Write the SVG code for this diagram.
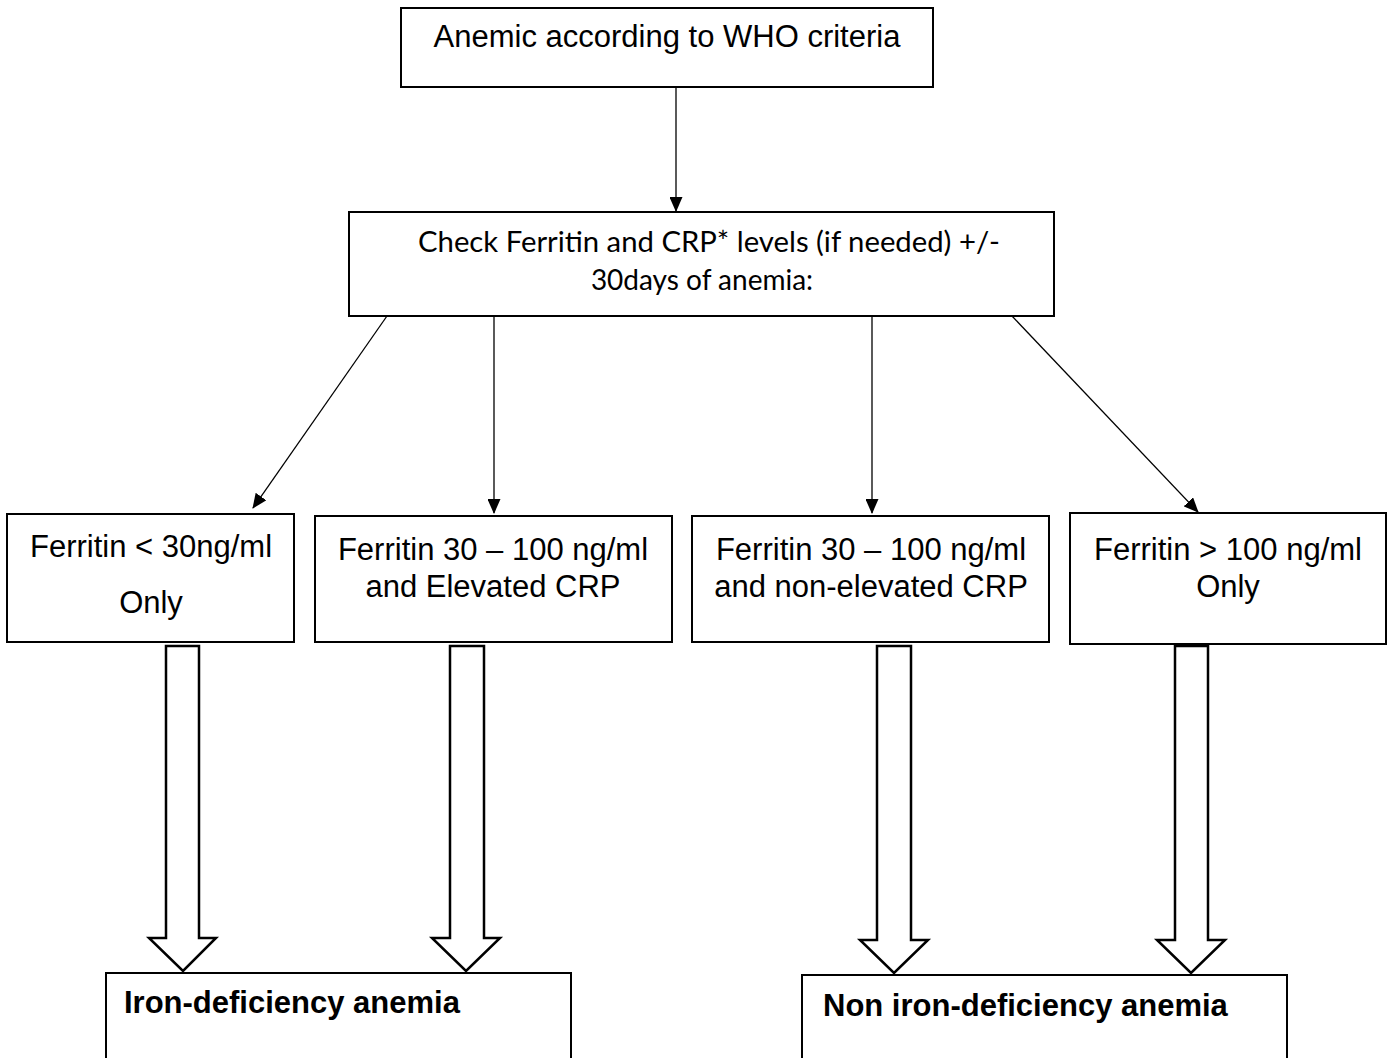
<svg xmlns="http://www.w3.org/2000/svg" width="1393" height="1058" viewBox="0 0 1393 1058">
<style>
.box{fill:#fff;stroke:#000;stroke-width:2}
.t{font-family:"Liberation Sans",Arial,sans-serif;font-size:31px;fill:#000;text-anchor:middle}
.b{font-family:"Liberation Sans",Arial,sans-serif;font-size:31px;font-weight:bold;fill:#000}
.c{font-family:Lato,"Open Sans",sans-serif;font-size:28px;fill:#000;text-anchor:middle}
.ln{stroke:#000;stroke-width:1.3;fill:none}
.blk{fill:#fff;stroke:#000;stroke-width:2.5;stroke-linejoin:miter}
</style>
<defs>
<marker id="ah" markerWidth="15" markerHeight="13" refX="14" refY="6.5" orient="auto" markerUnits="userSpaceOnUse">
<path d="M0,0 L15,6.5 L0,13 Z" fill="#000"/>
</marker>
</defs>
<rect width="1393" height="1058" fill="#fff"/>
<g id="connectors">
<line class="ln" x1="676" y1="87" x2="676" y2="211" marker-end="url(#ah)"/>
<line class="ln" x1="387" y1="316" x2="253" y2="508" marker-end="url(#ah)"/>
<line class="ln" x1="494" y1="316" x2="494" y2="513" marker-end="url(#ah)"/>
<line class="ln" x1="872" y1="316" x2="872" y2="513" marker-end="url(#ah)"/>
<line class="ln" x1="1012" y1="316" x2="1198" y2="512" marker-end="url(#ah)"/>
<path class="blk" d="M166,646 H199 V938 H216 L183,971 L149,938 H166 Z"/>
<path class="blk" d="M450,646 H484 V938 H500 L466,971 L432,938 H450 Z"/>
<path class="blk" d="M877,646 H911 V940 H928 L894,973 L860,940 H877 Z"/>
<path class="blk" d="M1175,646 H1208 V940 H1225 L1191,973 L1157,940 H1175 Z"/>
</g>
<g id="n1">
<rect class="box" x="401" y="8" width="532" height="79"/>
<text class="t" x="667" y="47">Anemic according to WHO criteria</text>
</g>
<g id="n2">
<rect class="box" x="349" y="212" width="705" height="104"/>
<text class="c" x="709" y="252" textLength="582" lengthAdjust="spacingAndGlyphs">Check Ferritin and CRP* levels (if needed) +/-</text>
<text class="c" x="702" y="290">30days of anemia:</text>
</g>
<g id="n3">
<rect class="box" x="7" y="514" width="287" height="128"/>
<text class="t" x="151" y="557">Ferritin &lt; 30ng/ml</text>
<text class="t" x="151" y="613">Only</text>
</g>
<g id="n4">
<rect class="box" x="315" y="516" width="357" height="126"/>
<text class="t" x="493" y="560">Ferritin 30 – 100 ng/ml</text>
<text class="t" x="493" y="597">and Elevated CRP</text>
</g>
<g id="n5">
<rect class="box" x="692" y="516" width="357" height="126"/>
<text class="t" x="871" y="560">Ferritin 30 – 100 ng/ml</text>
<text class="t" x="871" y="597">and non-elevated CRP</text>
</g>
<g id="n6">
<rect class="box" x="1070" y="513" width="316" height="131"/>
<text class="t" x="1228" y="560">Ferritin &gt; 100 ng/ml</text>
<text class="t" x="1228" y="597">Only</text>
</g>
<g id="n7">
<rect class="box" x="106" y="973" width="465" height="100"/>
<text class="b" x="124" y="1013">Iron-deficiency anemia</text>
</g>
<g id="n8">
<rect class="box" x="802" y="975" width="485" height="100"/>
<text class="b" x="823" y="1016">Non iron-deficiency anemia</text>
</g>
</svg>
